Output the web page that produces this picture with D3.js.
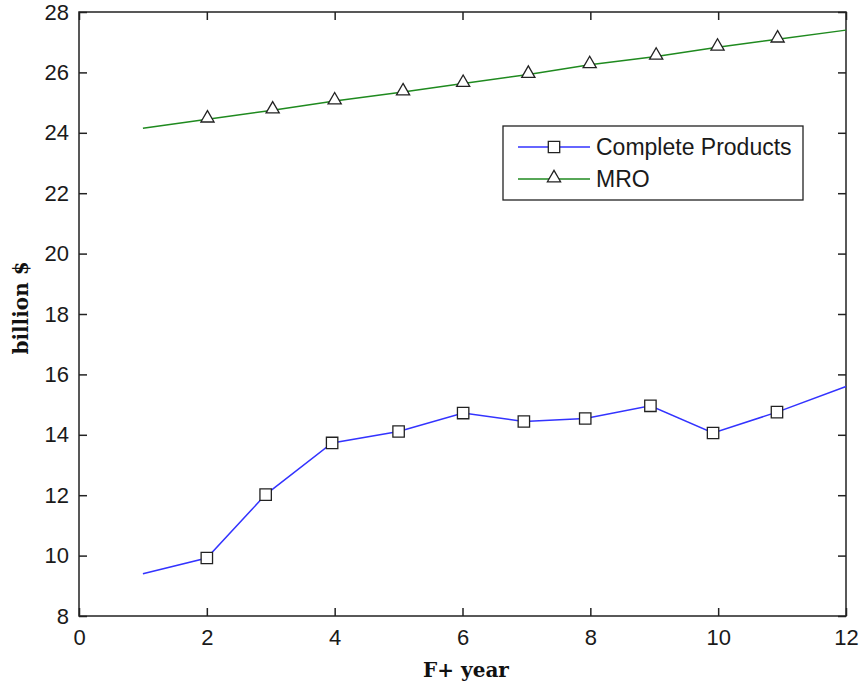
<!DOCTYPE html>
<html lang="en">
<head>
  <meta charset="UTF-8">
  <title>Complete Products and MRO</title>
  <script src="https://cdn.jsdelivr.net/npm/d3@7"></script>
  <style>
  body { margin: 0; background: #fff; }
  .tick text { font-family: "Liberation Sans", Arial, sans-serif; font-size: 22px; fill: #1a1a1a; }
  .axis-label { font-family: "DejaVu Serif", serif; font-weight: bold; font-size: 20px; fill: #111; }
  .legend text { font-family: "Liberation Sans", Arial, sans-serif; font-size: 23px; fill: #1a1a1a; }
  </style>
</head>
<body>
<div id="chart"></div>
<script>
// data
const cpYears = [1, 2, 2.92, 3.96, 5, 6.01, 6.96, 7.92, 8.94, 9.92, 10.92, 12];
const cpValues = [9.4, 9.92, 12.02, 13.73, 14.11, 14.72, 14.44, 14.54, 14.96, 14.06, 14.75, 15.6];
const mroYears = [1, 2.01, 3.03, 4, 5.07, 6.01, 7.03, 7.99, 9.03, 9.99, 10.93, 12];
const mroValues = [24.15, 24.45, 24.75, 25.05, 25.35, 25.63, 25.93, 26.25, 26.53, 26.83, 27.1, 27.4];
const xTicks = [0, 2, 4, 6, 8, 10, 12];
const yTicks = [8, 10, 12, 14, 16, 18, 20, 22, 24, 26, 28];

const width = 862, height = 687;
const margin = {top: 12, right: 16, bottom: 71, left: 79};

const svg = d3.select('#chart').append('svg')
  .attr('width', width).attr('height', height);

const x = d3.scaleLinear().domain([0, 12]).range([margin.left, width - margin.right]);
const y = d3.scaleLinear().domain([8, 28]).range([height - margin.bottom, margin.top]);

const tickLen = 8;

// axes, ticks inward on all four sides
svg.append('g')
  .attr('transform', `translate(0,${y(8)})`)
  .call(d3.axisBottom(x).tickValues(xTicks).tickSize(-tickLen).tickPadding(13))
  .call(g => g.select('.domain').remove());
svg.append('g')
  .attr('transform', `translate(0,${y(28)})`)
  .call(d3.axisTop(x).tickValues(xTicks).tickSize(-tickLen).tickFormat(''))
  .call(g => g.select('.domain').remove());
svg.append('g')
  .attr('transform', `translate(${x(0)},0)`)
  .call(d3.axisLeft(y).tickValues(yTicks).tickSize(-tickLen).tickPadding(10))
  .call(g => g.select('.domain').remove());
svg.append('g')
  .attr('transform', `translate(${x(12)},0)`)
  .call(d3.axisRight(y).tickValues(yTicks).tickSize(-tickLen).tickFormat(''))
  .call(g => g.select('.domain').remove());

svg.selectAll('.tick line').attr('stroke', '#222').attr('stroke-width', 1.5);

// frame
svg.append('rect')
  .attr('x', x(0)).attr('y', y(28))
  .attr('width', x(12) - x(0)).attr('height', y(8) - y(28))
  .attr('fill', 'none').attr('stroke', '#222').attr('stroke-width', 1.5);

const line = d3.line().x(d => x(d[0])).y(d => y(d[1]));
const cp = cpYears.map((v, i) => [v, cpValues[i]]);
const mro = mroYears.map((v, i) => [v, mroValues[i]]);

const blue = '#3333ff', green = '#1f8a1f';

svg.append('path').datum(cp).attr('d', line)
  .attr('fill', 'none').attr('stroke', blue).attr('stroke-width', 1.5);
svg.append('path').datum(mro).attr('d', line)
  .attr('fill', 'none').attr('stroke', green).attr('stroke-width', 1.5);

const square = d3.symbol().type(d3.symbolSquare).size(130);
const triangle = d3.symbol().type(d3.symbolTriangle).size(75);

// markers on all points except the two ends
svg.selectAll('.cp-mark').data(cp.slice(1, -1)).join('path')
  .attr('class', 'cp-mark')
  .attr('d', square)
  .attr('transform', d => `translate(${x(d[0])},${y(d[1])})`)
  .attr('fill', 'white').attr('stroke', '#222').attr('stroke-width', 1.3);
svg.selectAll('.mro-mark').data(mro.slice(1, -1)).join('path')
  .attr('class', 'mro-mark')
  .attr('d', triangle)
  .attr('transform', d => `translate(${x(d[0])},${y(d[1]) - 1})`)
  .attr('fill', 'white').attr('stroke', '#222').attr('stroke-width', 1.3);

// axis labels
svg.append('text').attr('class', 'axis-label')
  .attr('x', 466).attr('y', 677)
  .attr('text-anchor', 'middle')
  .text('F+ year');
svg.append('text').attr('class', 'axis-label')
  .attr('transform', `translate(28,${(y(8) + y(28)) / 2 - 6}) rotate(-90)`)
  .attr('text-anchor', 'middle')
  .text('billion $');

// legend
const legend = svg.append('g').attr('class', 'legend');
legend.append('rect')
  .attr('x', 503).attr('y', 126).attr('width', 300).attr('height', 74)
  .attr('fill', 'white').attr('stroke', '#222').attr('stroke-width', 1.3);
const items = [
  {name: 'Complete Products', color: blue, sym: square, dy: 0},
  {name: 'MRO', color: green, sym: triangle, dy: -1}
];
items.forEach((it, i) => {
  const ly = 147 + i * 32;
  legend.append('line')
    .attr('x1', 518).attr('x2', 590).attr('y1', ly).attr('y2', ly)
    .attr('stroke', it.color).attr('stroke-width', 1.5);
  legend.append('path').attr('d', it.sym)
    .attr('transform', `translate(554,${ly + it.dy})`)
    .attr('fill', 'white').attr('stroke', '#222').attr('stroke-width', 1.3);
  legend.append('text')
    .attr('x', 596).attr('y', ly).attr('dy', '0.35em')
    .text(it.name);
});
</script>
</body>
</html>
